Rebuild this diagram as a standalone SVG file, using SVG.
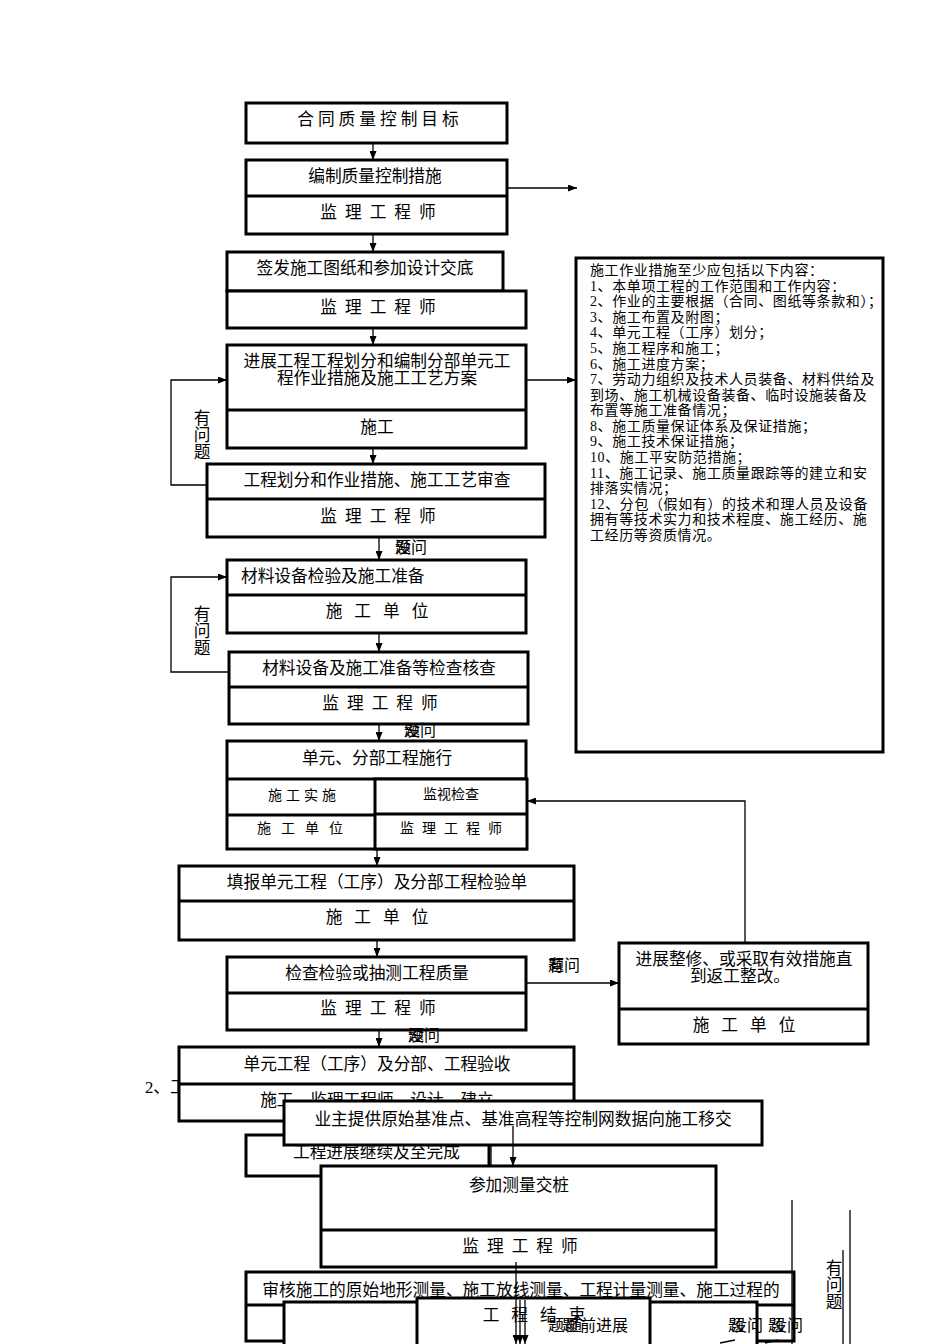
<svg xmlns="http://www.w3.org/2000/svg" width="950" height="1344" viewBox="0 0 950 1344">
<defs>
<marker id="ah" markerWidth="9" markerHeight="7" refX="9" refY="3.5" orient="auto" markerUnits="userSpaceOnUse">
<path d="M0,0 L9,3.5 L0,7 z" fill="#000"/>
</marker>
<style>
.b{fill:#fff;stroke:#000;stroke-width:3}
.d{fill:none;stroke:#000;stroke-width:3}
.c{fill:none;stroke:#000;stroke-width:1.3}
.a{fill:none;stroke:#000;stroke-width:1.3;marker-end:url(#ah)}
text{font-family:"Liberation Serif","Noto Sans CJK SC",serif;fill:#000}
.t{font-size:16.7px;text-anchor:middle}
.s{font-size:14px;text-anchor:middle}
.l{font-size:16.7px}
.q{font-size:16px}
.n{font-size:14px;letter-spacing:0.6px}
</style>
</defs>
<rect width="950" height="1344" fill="#fff"/>

<g id="connectors">
<line class="a" x1="373" y1="143" x2="373" y2="160"/>
<line class="a" x1="507" y1="188" x2="577" y2="188"/>
<line class="a" x1="373" y1="234" x2="373" y2="252"/>
<line class="a" x1="373" y1="328" x2="373" y2="345"/>
<line class="a" x1="526" y1="380" x2="576" y2="380"/>
<line class="a" x1="373" y1="448" x2="373" y2="464"/>
<polyline class="a" points="207,485 171,485 171,380 227,380"/>
<line class="a" x1="379" y1="537" x2="379" y2="560"/>
<line class="a" x1="379" y1="633" x2="379" y2="652"/>
<polyline class="a" points="229,672 171,672 171,577 227,577"/>
<line class="a" x1="379" y1="724" x2="379" y2="741"/>
<line class="a" x1="377" y1="849" x2="377" y2="866"/>
<polyline class="a" points="745,943 745,801 527,801"/>
<line class="a" x1="377" y1="940" x2="377" y2="957"/>
<line class="a" x1="526" y1="983" x2="619" y2="983"/>
<line class="a" x1="379" y1="1030" x2="379" y2="1047"/>
</g>

<g id="n-info">
<rect class="b" x="576" y="258" width="307" height="494"/>
<text class="n" x="590" y="275">施工作业措施至少应包括以下内容：</text>
<text class="n" x="590" y="291">1、本单项工程的工作范围和工作内容：</text>
<text class="n" x="590" y="306">2、作业的主要根据（合同、图纸等条款和）；</text>
<text class="n" x="590" y="322">3、施工布置及附图；</text>
<text class="n" x="590" y="337">4、单元工程（工序）划分；</text>
<text class="n" x="590" y="353">5、施工程序和施工；</text>
<text class="n" x="590" y="369">6、施工进度方案；</text>
<text class="n" x="590" y="384">7、劳动力组织及技术人员装备、材料供给及</text>
<text class="n" x="590" y="400">到场、施工机械设备装备、临时设施装备及</text>
<text class="n" x="590" y="415">布置等施工准备情况；</text>
<text class="n" x="590" y="431">8、施工质量保证体系及保证措施；</text>
<text class="n" x="590" y="446">9、施工技术保证措施；</text>
<text class="n" x="590" y="462">10、施工平安防范措施；</text>
<text class="n" x="590" y="478">11、施工记录、施工质量跟踪等的建立和安</text>
<text class="n" x="590" y="493">排落实情况；</text>
<text class="n" x="590" y="509">12、分包（假如有）的技术和理人员及设备</text>
<text class="n" x="590" y="524">拥有等技术实力和技术程度、施工经历、施</text>
<text class="n" x="590" y="540">工经历等资质情况。</text>
</g>

<g id="n1">
<rect class="b" x="246" y="103" width="261" height="40"/>
<text class="t" x="380" y="125" letter-spacing="4">合同质量控制目标</text>
</g>

<g id="n2">
<rect class="b" x="246" y="160" width="261" height="74"/>
<line class="d" x1="246" y1="196" x2="507" y2="196"/>
<text class="t" x="375" y="182">编制质量控制措施</text>
<text class="t" x="382" y="218" letter-spacing="8">监理工程师</text>
</g>

<g id="n3">
<rect class="b" x="227" y="252" width="276" height="39"/>
<rect class="b" x="227" y="291" width="299" height="37"/>
<text class="t" x="365" y="274">签发施工图纸和参加设计交底</text>
<text class="t" x="382" y="313" letter-spacing="8">监理工程师</text>
</g>

<g id="n4">
<rect class="b" x="227" y="345" width="299" height="103"/>
<line class="d" x1="227" y1="410" x2="526" y2="410"/>
<text class="t" x="377" y="367">进展工程工程划分和编制分部单元工</text>
<text class="t" x="377" y="384">程作业措施及施工工艺方案</text>
<text class="t" x="377" y="433">施工</text>
</g>

<g id="n5">
<rect class="b" x="207" y="464" width="338" height="73"/>
<line class="d" x1="207" y1="499" x2="545" y2="499"/>
<text class="t" x="377" y="486">工程划分和作业措施、施工工艺审查</text>
<text class="t" x="382" y="522" letter-spacing="8">监理工程师</text>
<text class="t" x="202" y="424">有</text>
<text class="t" x="202" y="441">问</text>
<text class="t" x="202" y="458">题</text>
<text class="q" x="395" y="553">没<tspan dx="-16">题</tspan>问</text>
</g>

<g id="n6">
<rect class="b" x="227" y="560" width="299" height="73"/>
<line class="d" x1="227" y1="595" x2="526" y2="595"/>
<text class="l" x="241" y="582">材料设备检验及施工准备</text>
<text class="t" x="383" y="617" letter-spacing="12">施工单位</text>
</g>

<g id="n7">
<rect class="b" x="229" y="652" width="299" height="72"/>
<line class="d" x1="229" y1="687" x2="528" y2="687"/>
<text class="t" x="379" y="674">材料设备及施工准备等检查核查</text>
<text class="t" x="384" y="709" letter-spacing="8">监理工程师</text>
<text class="t" x="202" y="620">有</text>
<text class="t" x="202" y="637">问</text>
<text class="t" x="202" y="654">题</text>
<text class="q" x="404" y="736">没<tspan dx="-16">题</tspan>问</text>
</g>

<g id="n8">
<rect class="b" x="227" y="741" width="299" height="108"/>
<line class="d" x1="227" y1="779" x2="526" y2="779"/>
<line class="d" x1="227" y1="815" x2="375" y2="815"/>
<rect class="b" x="375" y="779" width="152" height="70"/>
<line class="d" x1="375" y1="814" x2="527" y2="814"/>
<text class="t" x="377" y="764">单元、分部工程施行</text>
<text class="s" x="304" y="800" letter-spacing="4">施工实施</text>
<text class="s" x="305" y="833" letter-spacing="10">施工单位</text>
<text class="s" x="451" y="799">监视检查</text>
<text class="s" x="455" y="833" letter-spacing="8">监理工程师</text>
</g>

<g id="n9">
<rect class="b" x="179" y="866" width="395" height="74"/>
<line class="d" x1="179" y1="901" x2="574" y2="901"/>
<text class="t" x="377" y="888">填报单元工程（工序）及分部工程检验单</text>
<text class="t" x="383" y="923" letter-spacing="12">施工单位</text>
</g>

<g id="n10">
<rect class="b" x="227" y="957" width="299" height="73"/>
<line class="d" x1="227" y1="993" x2="526" y2="993"/>
<text class="t" x="377" y="979">检查检验或抽测工程质量</text>
<text class="t" x="382" y="1014" letter-spacing="8">监理工程师</text>
<text class="q" x="548" y="971">有<tspan dx="-16">题</tspan>问</text>
<text class="q" x="408" y="1041">没<tspan dx="-16">题</tspan>问</text>
</g>

<g id="n11">
<rect class="b" x="619" y="943" width="249" height="101"/>
<line class="d" x1="619" y1="1009" x2="868" y2="1009"/>
<text class="t" x="744" y="965">进展整修、或采取有效措施直</text>
<text class="t" x="740" y="982">到返工整改。</text>
<text class="t" x="750" y="1031" letter-spacing="12">施工单位</text>
</g>

<g id="n12">
<text class="l" x="145" y="1093">2、工程</text>
<rect class="b" x="179" y="1047" width="395" height="74"/>
<line class="d" x1="179" y1="1084" x2="574" y2="1084"/>
<text class="t" x="377" y="1070">单元工程（工序）及分部、工程验收</text>
<text class="t" x="377" y="1106">施工、监理工程师、设计、建立</text>
</g>

<g id="n-continue">
<rect class="b" x="246" y="1135" width="243" height="41"/>
<line class="c" x1="491" y1="1135" x2="491" y2="1176"/>
<text class="l" x="293" y="1158">工程进展继续及至完成</text>
</g>

<g id="n13">
<rect class="b" x="284" y="1101" width="478" height="44"/>
<text class="t" x="523" y="1125">业主提供原始基准点、基准高程等控制网数据向施工移交</text>
<line class="a" x1="513" y1="1126" x2="513" y2="1166"/>
</g>

<g id="n14">
<rect class="b" x="321" y="1166" width="395" height="101"/>
<line class="d" x1="321" y1="1230" x2="716" y2="1230"/>
<text class="t" x="519" y="1191">参加测量交桩</text>
<text class="t" x="524" y="1252" letter-spacing="8">监理工程师</text>
</g>

<g id="n15">
<rect class="b" x="246" y="1272" width="548" height="69"/>
<line class="d" x1="246" y1="1305" x2="794" y2="1305"/>
<text class="t" x="521" y="1296">审核施工的原始地形测量、施工放线测量、工程计量测量、施工过程的</text>
</g>

<g id="n16">
<rect class="b" x="284" y="1302" width="473" height="60"/>
<rect class="b" x="417" y="1298" width="233" height="64"/>
<text class="t" x="540" y="1321" letter-spacing="12">工程结束</text>
<text class="q" x="548" y="1331">题<tspan dx="-2">题</tspan><tspan dx="-12">随</tspan><tspan dx="-2">前进展</tspan></text>
<text class="q" x="728" y="1331">题<tspan dx="-13">没</tspan>问</text>
<text class="q" x="768" y="1331">题<tspan dx="-13">没</tspan>问</text>
</g>

<g id="bottom-connectors">
<line class="c" x1="792" y1="1200" x2="792" y2="1344"/>
<line class="c" x1="850" y1="1210" x2="850" y2="1344"/>
<line class="c" x1="843" y1="1250" x2="843" y2="1344"/>
<text class="t" x="834" y="1274">有</text>
<text class="t" x="834" y="1291">问</text>
<text class="t" x="834" y="1308">题</text>
<line class="a" x1="516" y1="1262" x2="516" y2="1344"/>
<line class="a" x1="520" y1="1300" x2="520" y2="1344"/>
<line class="a" x1="525" y1="1300" x2="525" y2="1344"/>
<line class="c" x1="720" y1="1343" x2="735" y2="1340"/>
<line class="c" x1="765" y1="1343" x2="778" y2="1340"/>
</g>
</svg>
